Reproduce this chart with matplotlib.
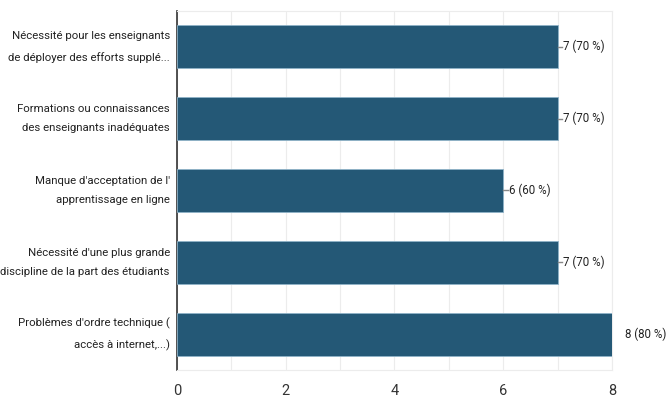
import matplotlib.pyplot as plt
import numpy as np

categories = [
    "Nécessité pour les enseignants\nde déployer des efforts supplé...",
    "Formations ou connaissances\ndes enseignants inadéquates",
    "Manque d'acceptation de l'\napprentissage en ligne",
    "Nécessité d'une plus grande\ndiscipline de la part des étudiants",
    "Problèmes d'ordre technique (\naccès à internet,...)",
]
counts = [7, 7, 6, 7, 8]
percents = [70, 70, 60, 70, 80]

plt.rcParams['font.family'] = ['Roboto', 'DejaVu Sans']

fig = plt.figure(figsize=(6.67, 4.01), dpi=100)
ax = fig.add_axes([0.265, 0.077, 0.9175 - 0.265, 0.896])

y = np.arange(len(categories))
ax.barh(y, counts, height=0.6, color="#245876", edgecolor="#8fb3c8", linewidth=0.6, zorder=3)

for yi, c, p in zip(y, counts, percents):
    if c < 8:
        ax.plot([c, c + 0.09], [yi, yi], color="#888888", lw=1, zorder=3, clip_on=False)
        ax.text(c + 0.1, yi, f"{c} ({p} %)", va="center", ha="left", fontsize=8.3, color="#222222")
    else:
        ax.text(c + 0.24, yi, f"{c} ({p} %)", va="center", ha="left", fontsize=8.3, color="#222222")

ax.set_xlim(0, 8)
ax.set_ylim(len(categories) - 0.5, -0.5)
ax.set_yticks(y)
ax.set_yticklabels(categories, fontsize=8.2, color="#222222", linespacing=2.2, va="center")
ax.set_xticks([0, 2, 4, 6, 8])
ax.tick_params(axis="x", labelsize=10.5, length=0, pad=10, colors="#333333")
ax.tick_params(axis="y", length=0, pad=5)
ax.set_xticks(np.arange(0, 9, 1), minor=True)
ax.tick_params(axis="x", which="minor", length=0)
ax.grid(axis="x", which="both", color="#ececec", lw=0.8, zorder=0)
for s in ["top", "right", "bottom"]:
    ax.spines[s].set_color("#ececec")
ax.spines["left"].set_color("#333333")
ax.spines["left"].set_linewidth(1.2)

fig.savefig("out.png", dpi=100)
